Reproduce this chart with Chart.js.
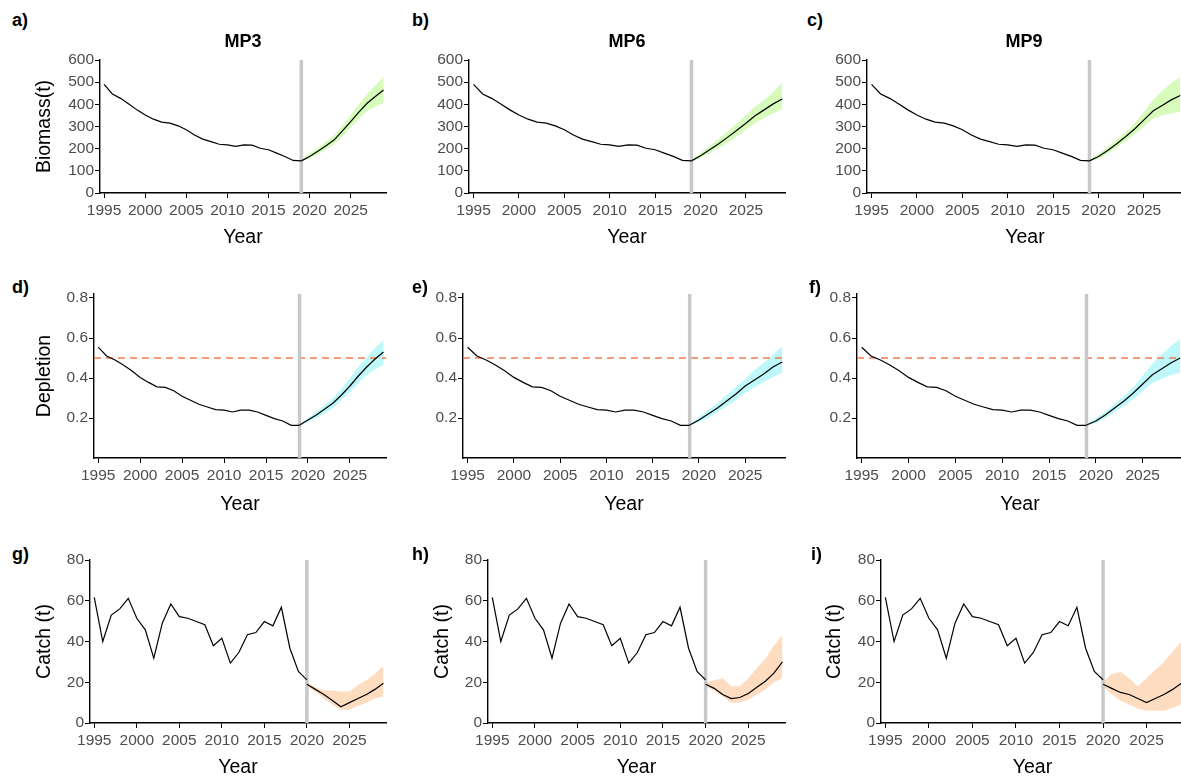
<!DOCTYPE html>
<html>
<head>
<meta charset="utf-8">
<script src="https://cdn.jsdelivr.net/npm/chart.js@4.4.0/dist/chart.umd.min.js"></script>
<style>
  body { margin: 0; width: 1181px; height: 778px; overflow: hidden; background: #fff; position: relative;
         font-family: "Liberation Sans", Arial, sans-serif; }
  canvas { position: absolute; }
  .lab { position: absolute; font-weight: bold; font-size: 18px; line-height: 18px; color: #000; }
  .mp { position: absolute; font-weight: bold; font-size: 18px; line-height: 18px; text-align: center; color: #000; }
</style>
</head>
<body>
<script>
// ---- data ----
const stockYears = [1995,1996,1997,1998,1999,2000,2001,2002,2003,2004,2005,2006,2007,2008,2009,2010,2011,2012,2013,2014,2015,2016,2017,2018,2019];
const biomassHist = [490,447,427,402,375,352,333,320,315,303,285,262,243,232,220,217,210,217,216,202,195,180,165,147,145];
const depletionHist = [0.554,0.51,0.49,0.465,0.436,0.403,0.378,0.356,0.353,0.336,0.309,0.289,0.269,0.255,0.242,0.239,0.23,0.239,0.239,0.23,0.213,0.197,0.185,0.163,0.163];

const catchYears = [1995,1996,1997,1998,1999,2000,2001,2002,2003,2004,2005,2006,2007,2008,2009,2010,2011,2012,2013,2014,2015,2016,2017,2018,2019,2020];
const catchHist = [61.7,40,53,56,61.2,51.4,45.7,31.8,49,58.4,52.2,51.4,49.8,48.2,37.9,41.6,29.4,34.6,43.3,44.4,49.8,47.7,56.8,36.7,25.3,21.2];

const projStockYears = [2019,2020,2021,2022,2023,2024,2025,2026,2027,2028,2029];
const projCatchYears = [2020,2021,2022,2023,2024,2025,2026,2027,2028,2029];

const biomassMP3   = [145,165,188,213,240,280,322,365,405,435,465];
const biomassMP3Lo = [142,156,174,196,220,257,295,335,370,390,405];
const biomassMP3Hi = [148,178,203,232,262,305,352,400,445,485,525];
const biomassMP6   = [145,168,195,222,252,283,315,348,375,402,424];
const biomassMP6Lo = [142,158,180,203,228,255,285,315,340,360,378];
const biomassMP6Hi = [148,180,212,245,280,315,350,390,420,455,498];
const biomassMP9   = [145,165,192,222,255,290,330,370,395,420,440];
const biomassMP9Lo = [142,155,177,205,235,265,300,335,350,360,368];
const biomassMP9Hi = [148,177,208,240,275,315,365,420,460,495,525];

const depletionMP3   = [0.165,0.19,0.215,0.245,0.275,0.315,0.36,0.41,0.455,0.495,0.53];
const depletionMP3Lo = [0.162,0.18,0.2,0.225,0.25,0.29,0.33,0.375,0.415,0.445,0.465];
const depletionMP3Hi = [0.168,0.2,0.23,0.265,0.3,0.345,0.4,0.455,0.505,0.55,0.59];
const depletionMP6   = [0.165,0.19,0.22,0.25,0.285,0.32,0.36,0.39,0.42,0.455,0.48];
const depletionMP6Lo = [0.162,0.18,0.2,0.23,0.26,0.29,0.325,0.355,0.38,0.405,0.425];
const depletionMP6Hi = [0.168,0.205,0.24,0.275,0.315,0.355,0.395,0.44,0.475,0.515,0.56];
const depletionMP9   = [0.165,0.185,0.215,0.25,0.285,0.325,0.37,0.415,0.445,0.475,0.5];
const depletionMP9Lo = [0.162,0.175,0.2,0.23,0.26,0.295,0.335,0.375,0.395,0.415,0.425];
const depletionMP9Hi = [0.168,0.2,0.23,0.27,0.31,0.355,0.41,0.47,0.515,0.56,0.595];

const catchMP3   = [19,16.5,14,11,8,10,12,14,16.5,19.5];
const catchMP3Lo = [18,15.5,12,9,6.5,6.5,8.5,10,12,13];
const catchMP3Hi = [20,17.5,16,16,15.5,15.5,18.5,21,24,28];
const catchMP6   = [19,17,14,12,12.5,14.5,17.5,20.5,24.5,30];
const catchMP6Lo = [18,16,13,10,10,11.5,14,16.5,20,22];
const catchMP6Hi = [20,21,22,18,18,22,27,31.5,38,43];
const catchMP9   = [19,17,15,14,12,10,12,14,16.5,19.5];
const catchMP9Lo = [18,14,11,9,7,6,6,6,7.5,9];
const catchMP9Hi = [20,24,25,22,18,22,26,30,35,40];

const yearTicks = [1995,2000,2005,2010,2015,2020,2025];
const biomassTicks = [0,100,200,300,400,500,600];
const depletionTicks = [0.2,0.4,0.6,0.8];
const catchTicks = [0,20,40,60,80];

const refYearStock = 2019;
const refYearCatch = 2020;
const targetDepletion = 0.5;
const xMin = 1994.5, xMax = 2029.3;

// ---- styles ----
const tickColor = '#4d4d4d';
const greenBand = '#d6fbbb';
const cyanBand = '#bff8fb';
const peachBand = '#fddcc0';
const tickFont = { size: 15.5, family: '"Liberation Sans", Arial, sans-serif' };
const titleFont = { size: 19.5, family: '"Liberation Sans", Arial, sans-serif' };
const PT = 12, PR = 4;

function pts(xs, ys) {
  return xs.map((x, i) => ({ x: x, y: ys[i] }));
}

function makePanel(p) {
  var canvas = document.createElement('canvas');
  var w = p.R - p.L + p.YW + PR;
  var h = p.B - p.T + PT + p.XH;
  canvas.width = w; canvas.height = h;
  canvas.style.left = (p.L - p.YW) + 'px';
  canvas.style.top = (p.T - PT) + 'px';
  canvas.style.width = w + 'px';
  canvas.style.height = h + 'px';
  document.body.appendChild(canvas);

  var datasets = [
    { data: pts(p.histX, p.hist), borderColor: '#000', borderWidth: 1.2, pointRadius: 0, fill: false, order: 0 },
    { data: pts(p.projX, p.proj), borderColor: '#000', borderWidth: 1.2, pointRadius: 0, fill: false, order: 0 },
    { data: [{ x: p.refYear, y: p.yMin }, { x: p.refYear, y: p.yMax }], borderColor: '#c8c8c8', borderWidth: 3.5, pointRadius: 0, fill: false, order: 1 },
    { data: pts(p.projX, p.hi), borderColor: 'transparent', borderWidth: 0, pointRadius: 0, backgroundColor: p.band, fill: '+1', order: 3 },
    { data: pts(p.projX, p.lo), borderColor: 'transparent', borderWidth: 0, pointRadius: 0, fill: false, order: 3 }
  ];
  if (p.target !== undefined) {
    datasets.push({ data: [{ x: xMin, y: p.target }, { x: xMax, y: p.target }], borderColor: '#f27b50', borderWidth: 1.4,
      borderDash: [7, 5], pointRadius: 0, fill: false, order: 2 });
  }

  new Chart(canvas.getContext('2d'), {
    type: 'line',
    data: { datasets: datasets },
    options: {
      responsive: false,
      animation: false,
      devicePixelRatio: 1,
      layout: { padding: { top: PT, right: PR, left: 0, bottom: 0 } },
      plugins: { legend: { display: false }, tooltip: { enabled: false } },
      scales: {
        x: {
          type: 'linear', min: xMin, max: xMax,
          afterBuildTicks: (s) => { s.ticks = yearTicks.map(v => ({ value: v })); },
          afterFit: (s) => { s.height = p.XH; },
          grid: { drawOnChartArea: false, drawTicks: true, tickLength: 5, color: '#000' },
          border: { display: true, color: '#000', width: 1.4 },
          ticks: { color: tickColor, font: tickFont, padding: 3, maxRotation: 0, autoSkip: false,
                   callback: (v) => String(v) },
          title: { display: true, text: 'Year', color: '#000', font: titleFont, padding: 0 }
        },
        y: {
          type: 'linear', min: p.yMin, max: p.yMax,
          afterBuildTicks: (s) => { s.ticks = p.yTicks.map(v => ({ value: v })); },
          afterFit: (s) => { s.width = p.YW; },
          grid: { drawOnChartArea: false, drawTicks: true, tickLength: 5, color: '#000' },
          border: { display: true, color: '#000', width: 1.4 },
          ticks: { color: tickColor, font: tickFont, padding: 1,
                   callback: (v) => p.fmt(v) },
          title: { display: !!p.yTitle, text: p.yTitle || '', color: '#000', font: titleFont, padding: 0 }
        }
      }
    }
  });
}

function addText(cls, txt, left, top, width) {
  var d = document.createElement('div');
  d.className = cls;
  d.textContent = txt;
  d.style.left = left + 'px';
  d.style.top = top + 'px';
  if (width) d.style.width = width + 'px';
  document.body.appendChild(d);
}

const intFmt = (v) => String(Math.round(v));
const decFmt = (v) => v.toFixed(1);

const row1 = { T: 60, B: 193, XH: 56, histX: stockYears, hist: biomassHist, projX: projStockYears, refYear: refYearStock,
               yMin: 0, yMax: 600, yTicks: biomassTicks, fmt: intFmt, band: greenBand };
const row2 = { T: 294, B: 458, XH: 58, histX: stockYears, hist: depletionHist, projX: projStockYears, refYear: refYearStock,
               yMin: 0, yMax: 0.82, yTicks: depletionTicks, fmt: decFmt, band: cyanBand, target: targetDepletion };
const row3 = { T: 560, B: 723, XH: 56, histX: catchYears, hist: catchHist, projX: projCatchYears, refYear: refYearCatch,
               yMin: 0, yMax: 80, yTicks: catchTicks, fmt: intFmt, band: peachBand };

const panels = [
  Object.assign({}, row1, { L: 100, R: 386, YW: 67, yTitle: 'Biomass(t)', proj: biomassMP3, lo: biomassMP3Lo, hi: biomassMP3Hi }),
  Object.assign({}, row1, { L: 469, R: 785, YW: 48, proj: biomassMP6, lo: biomassMP6Lo, hi: biomassMP6Hi }),
  Object.assign({}, row1, { L: 867, R: 1183, YW: 48, proj: biomassMP9, lo: biomassMP9Lo, hi: biomassMP9Hi }),
  Object.assign({}, row2, { L: 94, R: 386, YW: 61, yTitle: 'Depletion', proj: depletionMP3, lo: depletionMP3Lo, hi: depletionMP3Hi }),
  Object.assign({}, row2, { L: 463, R: 785, YW: 48, proj: depletionMP6, lo: depletionMP6Lo, hi: depletionMP6Hi }),
  Object.assign({}, row2, { L: 857, R: 1183, YW: 48, proj: depletionMP9, lo: depletionMP9Lo, hi: depletionMP9Hi }),
  Object.assign({}, row3, { L: 90, R: 386, YW: 57, yTitle: 'Catch (t)', proj: catchMP3, lo: catchMP3Lo, hi: catchMP3Hi }),
  Object.assign({}, row3, { L: 488, R: 785, YW: 57, yTitle: 'Catch (t)', proj: catchMP6, lo: catchMP6Lo, hi: catchMP6Hi }),
  Object.assign({}, row3, { L: 881, R: 1184, YW: 58, yTitle: 'Catch (t)', proj: catchMP9, lo: catchMP9Lo, hi: catchMP9Hi })
];

panels.forEach(makePanel);

// panel letters and MP titles
addText('lab', 'a)', 12, 11); addText('lab', 'b)', 412, 11); addText('lab', 'c)', 807, 11);
addText('lab', 'd)', 12, 278); addText('lab', 'e)', 412, 278); addText('lab', 'f)', 809, 278);
addText('lab', 'g)', 12, 545); addText('lab', 'h)', 412, 545); addText('lab', 'i)', 811, 545);
addText('mp', 'MP3', 100, 32, 286);
addText('mp', 'MP6', 469, 32, 316);
addText('mp', 'MP9', 867, 32, 314);
</script>
</body>
</html>
